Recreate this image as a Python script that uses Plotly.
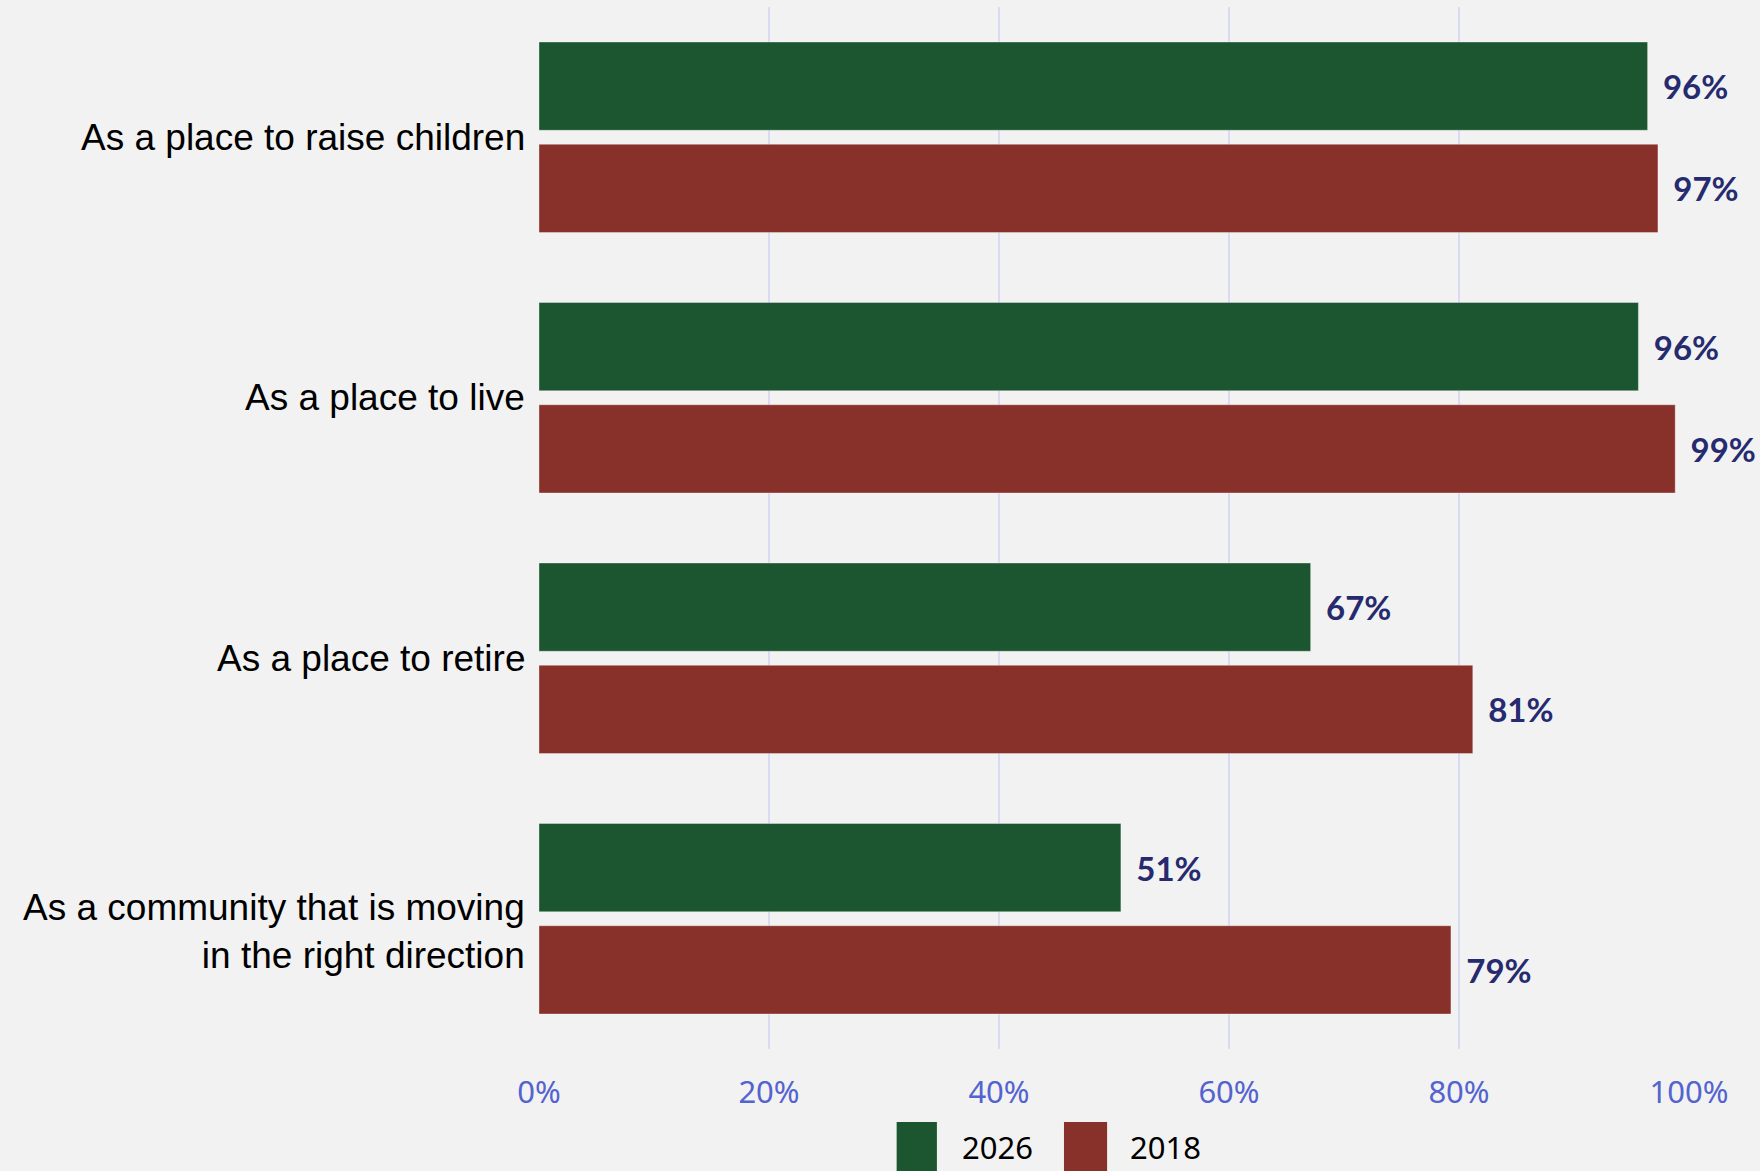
import plotly.graph_objects as go

categories = [
    "As a place to raise children",
    "As a place to live",
    "As a place to retire",
    "As a community that is moving<br>in the right direction",
]
values_2026 = [96.4, 95.6, 67.1, 50.6]
values_2018 = [97.3, 98.8, 81.2, 79.3]
series_names = ["2026", "2018"]
series_colors = ["#1b5631", "#88302a"]
x_ticks = [0, 20, 40, 60, 80, 100]
x_tick_labels = ["0%", "20%", "40%", "60%", "80%", "100%"]

LABEL_COLOR = "#262a6e"

fig = go.Figure()
for name, vals, col in zip(series_names, [values_2026, values_2018], series_colors):
    fig.add_trace(go.Bar(
        y=categories, x=vals, orientation="h", name=name,
        marker=dict(color=col, line=dict(color="rgba(255,255,255,0.35)", width=1)),
        texttemplate="\u2009\u2009\u2009%{x:.0f}%", textposition="outside",
        textfont=dict(family="Lato", size=33, color=LABEL_COLOR, weight="bold"),
        cliponaxis=False, showlegend=False,
    ))

fig.update_layout(
    width=1760, height=1171,
    paper_bgcolor="#f2f2f2", plot_bgcolor="#f2f2f2",
    margin=dict(l=539, r=71, t=7, b=122),
    barmode="group", bargap=0.215, bargroupgap=0.137,
    xaxis=dict(
        range=[0, 100], tickmode="array", tickvals=x_ticks, ticktext=x_tick_labels,
        showgrid=True, gridcolor="#d8dbf1", gridwidth=2,
        zeroline=False, showline=False,
        tickfont=dict(family="Noto Sans", size=31, color="#5363cf"),
        ticklabelstandoff=22,
    ),
    yaxis=dict(
        categoryorder="array", categoryarray=categories, autorange="reversed",
        showgrid=False, zeroline=False, showline=False, showticklabels=False,
    ),
    font=dict(family="Noto Sans"),
)

# category labels (right-aligned, multi-line labels sit slightly lower)
for cat in categories:
    n_lines = cat.count("<br>") + 1
    fig.add_annotation(xref="x", yref="y", x=0, y=cat, text=cat,
                       showarrow=False, xanchor="right", yanchor="middle", align="right",
                       xshift=-12, yshift=-13 * (n_lines - 1),
                       font=dict(family="Liberation Sans", size=37, color="#000000"))

# manual legend (large swatches)
legend_x = [(0.311, 0.346, 0.366), (0.4565, 0.494, 0.512)]
for (x0, x1, tx), name, col in zip(legend_x, series_names, series_colors):
    fig.add_shape(type="rect", xref="paper", yref="paper", x0=x0, x1=x1,
                  y0=-0.20, y1=-0.070, fillcolor=col, line=dict(width=0), layer="above")
    fig.add_annotation(xref="paper", yref="paper", x=tx, y=-0.094, text=name,
                       showarrow=False, xanchor="left", yanchor="middle",
                       font=dict(family="Noto Sans", size=31, color="#000000"))

fig.write_html("out.html", config={"displayModeBar": False},
               post_script="document.body.style.margin='0';document.body.style.background='#f2f2f2';")
